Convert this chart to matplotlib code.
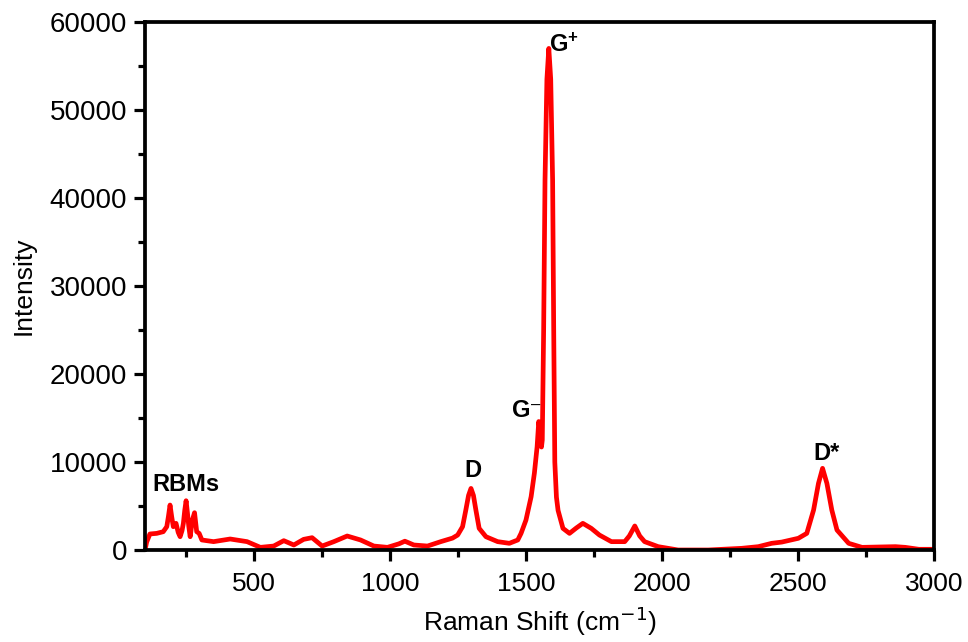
import matplotlib
matplotlib.use("Agg")
import matplotlib.pyplot as plt
from matplotlib.ticker import MultipleLocator

# Raman shift (cm^-1) and intensity
shift = [100, 106, 118, 143, 167, 180, 186, 192, 198, 204, 214, 222, 229, 236, 241,
         246, 251, 256, 261, 266, 274, 282, 290, 299, 309, 352, 413, 475, 524, 573,
         610, 647, 683, 714, 751, 794, 843, 892, 941, 991, 1033, 1055, 1088, 1138,
         1187, 1230, 1249, 1267, 1279, 1289, 1298, 1307, 1316, 1328, 1353, 1396, 1439,
         1470, 1482, 1500, 1519, 1531, 1541, 1547, 1552, 1557, 1560, 1565, 1570, 1577,
         1584, 1591, 1598, 1602, 1606, 1612, 1618, 1636, 1660, 1685, 1709, 1740, 1770,
         1814, 1863, 1880, 1900, 1918, 1936, 1986, 2059, 2170, 2293, 2354, 2403, 2440,
         2501, 2532, 2557, 2575, 2590, 2606, 2624, 2643, 2686, 2735, 2858, 2894, 2944,
         2993, 3000]
intensity = [0, 900, 1820, 1890, 2080, 2650, 3800, 5110, 3800, 2650, 3030, 2000, 1510,
             2200, 3030, 4500, 5600, 4200, 2650, 1510, 3400, 4240, 2080, 1890, 1140, 950,
             1250, 950, 300, 450, 1060, 570, 1210, 1400, 450, 950, 1590, 1140, 450, 300,
             700, 1000, 570, 450, 950, 1350, 1700, 2650, 4540, 6200, 7000, 6200, 4540,
             2460, 1510, 950, 760, 1140, 1890, 3400, 6060, 8740, 11740, 14600, 13500,
             11700, 12500, 25000, 42000, 53500, 57000, 53500, 42000, 25000, 10000, 6000,
             4500, 2460, 1890, 2500, 3030, 2460, 1700, 950, 950, 1600, 2730, 1600, 950,
             380, 0, 0, 190, 380, 760, 900, 1330, 1890, 4540, 7570, 9280, 7570, 4540,
             2270, 760, 300, 380, 300, 80, 80, 80]

# Peak annotations: (label, x, y)
peak_labels = ["RBMs", "D", "D*"]
peak_x = [251, 1305, 2606]
peak_y = [7500, 9090, 11000]

x_ticks = [500, 1000, 1500, 2000, 2500, 3000]
y_ticks = [0, 10000, 20000, 30000, 40000, 50000, 60000]

sans = ["Liberation Sans", "DejaVu Sans"]

fig = plt.figure(figsize=(9.68, 6.42), dpi=100)
ax = fig.add_axes([0.1498, 0.1433, 0.8152, 0.8224])

ax.plot(shift, intensity, color="#ff0000", lw=3.4, solid_joinstyle="round",
        solid_capstyle="round")

ax.set_xlim(100, 3000)
ax.set_ylim(0, 60000)
ax.set_xticks(x_ticks)
ax.set_yticks(y_ticks)
ax.xaxis.set_minor_locator(MultipleLocator(250))
ax.yaxis.set_minor_locator(MultipleLocator(5000))
ax.set_xticklabels([str(v) for v in x_ticks], family=sans, fontsize=19)
ax.set_yticklabels([str(v) for v in y_ticks], family=sans, fontsize=20)

for s in ax.spines.values():
    s.set_linewidth(2.7)
ax.tick_params(which="major", direction="out", length=8, width=2.3, pad=5)
ax.tick_params(which="minor", direction="out", length=5, width=2.3)
ax.tick_params(axis="x", which="major", pad=8)

ax.set_xlabel("Raman Shift (cm$^{-1}$)", family=sans, fontsize=19, labelpad=6)
ax.set_ylabel("Intensity", family=sans, fontsize=19, labelpad=10)

for lab, x, y in zip(peak_labels, peak_x, peak_y):
    ax.text(x, y, lab, ha="center", va="center", fontsize=17, fontweight="bold",
            family=sans)

# G- and G+ labels with superscripts
ax.text(1482, 15800, "G", ha="center", va="center", fontsize=17, fontweight="bold",
        family=sans)
ax.annotate("\u2013", xy=(1482, 15800), xytext=(7, 4), textcoords="offset points",
            ha="left", va="center", fontsize=12, family=sans)
ax.text(1621, 57500, "G", ha="center", va="center", fontsize=17, fontweight="bold",
        family=sans)
ax.annotate("+", xy=(1621, 57500), xytext=(6, 5), textcoords="offset points",
            ha="left", va="center", fontsize=12, fontweight="bold", family=sans)

fig.savefig("out.png", dpi=100)
